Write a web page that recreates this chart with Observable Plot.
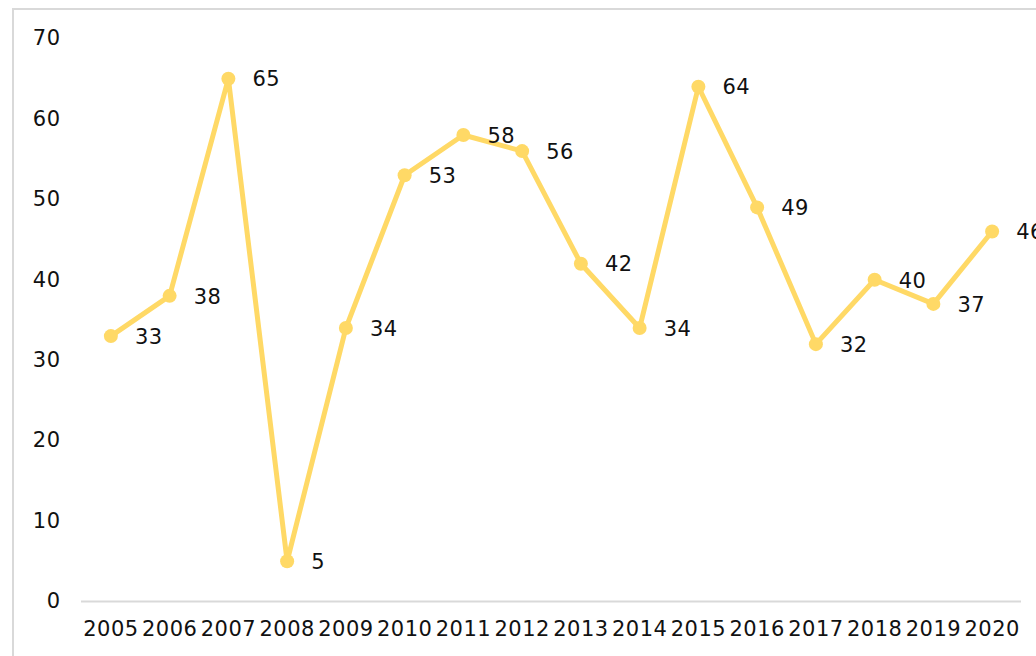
<!DOCTYPE html>
<html>
<head>
<meta charset="utf-8">
<script src="https://cdn.jsdelivr.net/npm/d3@7"></script>
<script src="https://cdn.jsdelivr.net/npm/@observablehq/plot@0.6"></script>
<style>
  html, body { margin: 0; padding: 0; background: #fff; overflow: hidden; }
  #wrap { position: relative; width: 1036px; height: 656px; }
  #frame { position: absolute; left: 12px; top: 8px; width: 1100px; height: 700px; border: 2px solid #d9d9d9; box-sizing: border-box; }
  #chart { position: absolute; left: 0; top: 0; }
  #chart text { letter-spacing: 0.5px; }
</style>
</head>
<body>
<div id="wrap"><div id="frame"></div><div id="chart"></div></div>
<script>
const years = ["2005","2006","2007","2008","2009","2010","2011","2012","2013","2014","2015","2016","2017","2018","2019","2020"];
const values = [33,38,65,5,34,53,58,56,42,34,64,49,32,40,37,46];
const yTicks = [0,10,20,30,40,50,60,70];

const data = years.map((y, i) => ({year: y, value: values[i]}));
const color = "#FFD966";

const chart = Plot.plot({
  width: 1036,
  height: 656,
  marginTop: 38,
  marginBottom: 55,
  marginLeft: 81,
  marginRight: 15,
  style: {fontFamily: "DejaVu Sans", fontSize: "21px", color: "#111", background: "transparent"},
  x: {type: "point", domain: years, padding: 0.5, round: false, label: null},
  y: {domain: [0, 70], label: null},
  marks: [
    Plot.axisY({ticks: yTicks, tickSize: 0, tickPadding: 21, label: null, fontSize: 21}),
    Plot.axisX({tickSize: 0, tickPadding: 20, label: null, fontSize: 21}),
    Plot.ruleY([0], {stroke: "#d9d9d9", strokeWidth: 2}),
    Plot.line(data, {x: "year", y: "value", stroke: color, strokeWidth: 5}),
    Plot.dot(data, {x: "year", y: "value", fill: color, r: 7}),
    Plot.text(data, {x: "year", y: "value", text: d => String(d.value), textAnchor: "start", dx: 24, dy: 1, fontSize: 21, fill: "#111"})
  ]
});
document.getElementById("chart").appendChild(chart);
</script>
</body>
</html>
